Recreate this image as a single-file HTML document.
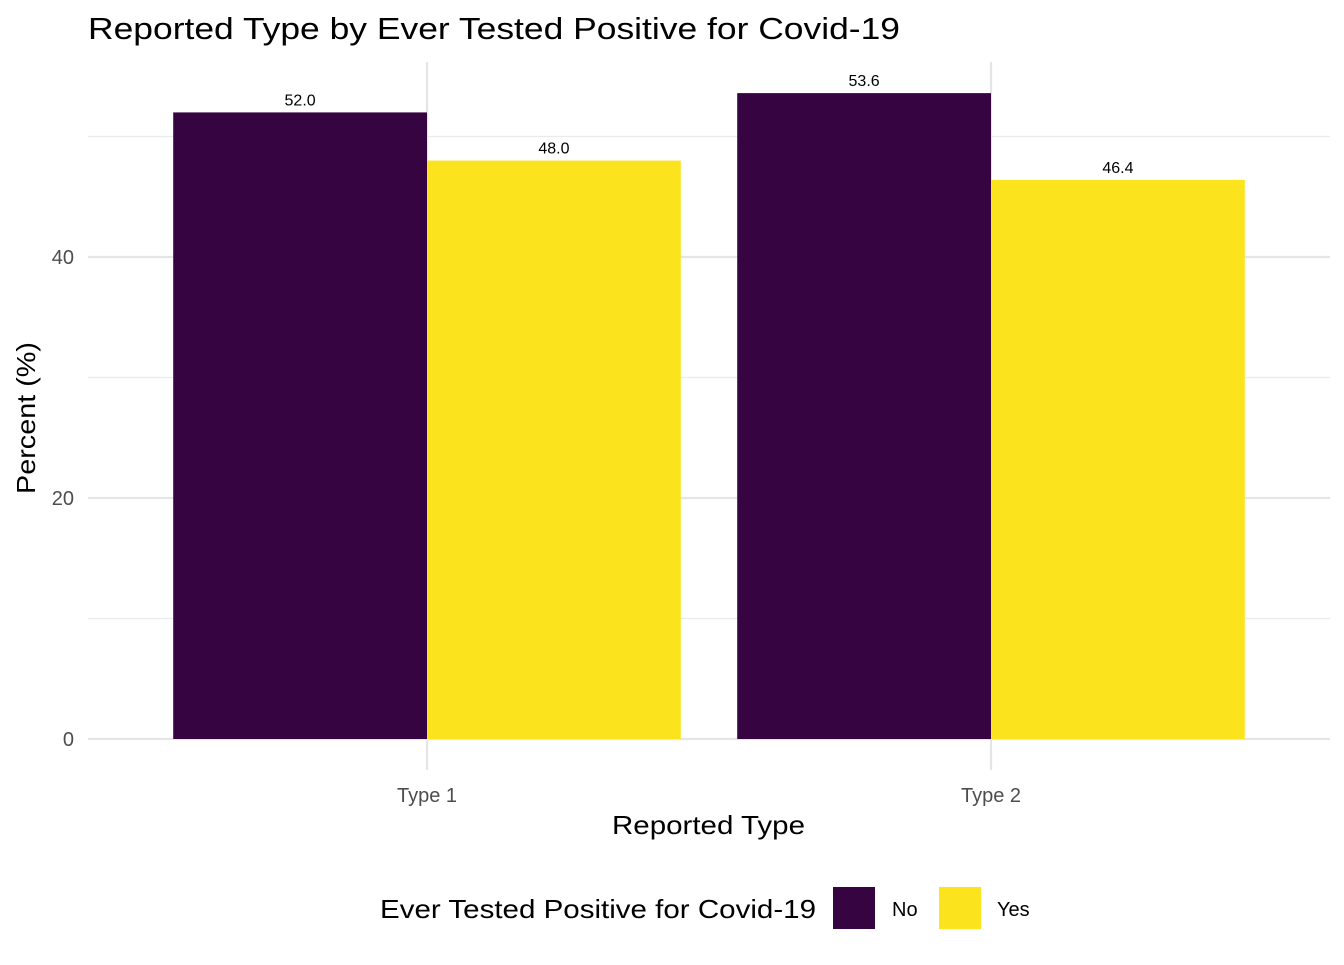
<!DOCTYPE html>
<html><head><meta charset="utf-8"><style>
body{margin:0;background:#fff;}
svg text{font-family:"Liberation Sans",Arial,sans-serif;}
</style></head><body>
<svg id="chart" width="1344" height="960" xmlns="http://www.w3.org/2000/svg">
<text x="88" y="39" font-size="31" textLength="812" lengthAdjust="spacingAndGlyphs" fill="#000">Reported Type by Ever Tested Positive for Covid-19</text>
<g id="grid"></g>
<g id="bars"></g>
<g id="labels"></g>
<text x="612" y="834" font-size="26" textLength="193" lengthAdjust="spacingAndGlyphs" fill="#000">Reported Type</text>
<text transform="translate(35,494) rotate(-90)" font-size="26" textLength="152" lengthAdjust="spacingAndGlyphs" fill="#000">Percent (%)</text>
<g>
<text x="380" y="918" font-size="26" textLength="436" lengthAdjust="spacingAndGlyphs" fill="#000">Ever Tested Positive for Covid-19</text>
<rect x="833" y="887" width="42" height="42" fill="#360541"/>
<text x="892" y="916" font-size="20" fill="#000">No</text>
<rect x="939" y="887" width="42" height="42" fill="#FBE41E"/>
<text x="997" y="916" font-size="20" fill="#000">Yes</text>
</g>
</svg>
<script>
const categories=["Type 1","Type 2"];
const seriesNames=["No","Yes"];
const noValues=[52.0,53.6];
const yesValues=[48.0,46.4];
const yTicks=[0,20,40];
const yMinor=[10,30,50];
const colors=["#360541","#FBE41E"];
const NS="http://www.w3.org/2000/svg";
const y0=739, pxPerUnit=12.05, plotLeft=88, plotRight=1330, plotTop=62, plotBottom=770;
const xStart=145, band=564;
function yScale(v){return y0-v*pxPerUnit;}
function xScale(i){return xStart+band*(i+0.5);}
function mk(tag,attrs,parent){const e=document.createElementNS(NS,tag);for(const k in attrs)e.setAttribute(k,attrs[k]);parent.appendChild(e);return e;}
const grid=document.getElementById('grid'),bars=document.getElementById('bars'),labels=document.getElementById('labels');
yMinor.forEach(v=>{const l=mk('line',{x1:plotLeft,x2:plotRight,y1:yScale(v),y2:yScale(v),stroke:'#ebebeb','stroke-width':1.2},grid);

});
yTicks.forEach(v=>{const l=mk('line',{x1:plotLeft,x2:plotRight,y1:yScale(v),y2:yScale(v),stroke:'#e5e5e5','stroke-width':2.2},grid);


const t=mk('text',{x:74,y:yScale(v)+7,'font-size':20,'text-anchor':'end',fill:'#4d4d4d'},grid);t.textContent=v;

});
categories.forEach((c,i)=>{const x=xScale(i);
const l=mk('line',{x1:x,x2:x,y1:plotTop,y2:plotBottom,stroke:'#e5e5e5','stroke-width':2.2},grid);


const t=mk('text',{x:x,y:802,'font-size':20,'text-anchor':'middle',fill:'#4d4d4d'},grid);t.textContent=c;


const bw=band*0.9/2;
[noValues[i],yesValues[i]].forEach((v,j)=>{const bx=x-bw+j*bw;
const r=mk('rect',{x:bx,y:yScale(v),width:bw,height:y0-yScale(v),fill:colors[j]},bars);


const tl=mk('text',{x:bx+bw/2,y:yScale(v)-7,'font-size':16,'text-anchor':'middle',fill:'#000'},labels);tl.textContent=v.toFixed(1);

});});
</script>
</body></html>
